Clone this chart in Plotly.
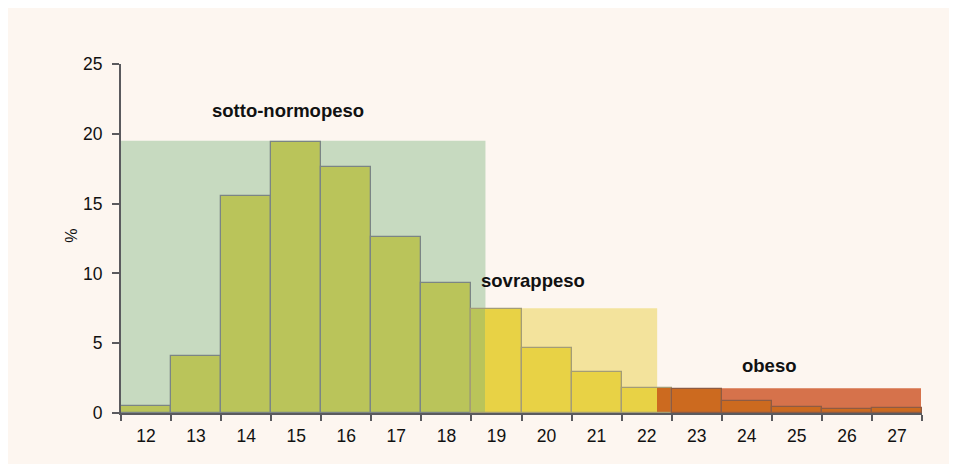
import plotly.graph_objects as go

# ---- data ----
bmi = [12, 13, 14, 15, 16, 17, 18, 19, 20, 21, 22, 23, 24, 25, 26, 27]
pct = [0.48, 4.05, 15.52, 19.40, 17.65, 12.58, 9.33, 7.44, 4.64, 2.92, 1.77, 1.72, 0.84, 0.43, 0.27, 0.39]

classes = ["sotto-normopeso", "sovrappeso", "obeso"]
class_lo = [11.5, 18.78, 22.21]
class_hi = [18.78, 22.21, 27.48]
class_top = [19.5, 7.5, 1.78]
label_x = [14.84, 19.73, 24.45]
label_y = [21.7, 9.47, 3.37]

light_cols = ["#c7dac0", "#f3e39c", "#d6724b"]
bar_cols = ["#bac45a", "#e8d245", "#cc6a1f"]
edge_cols = ["#7b8585", "#a49d76", "#8e5b43"]

CREAM = "#fdf6f0"
AX = "#5a5a5e"

fig = go.Figure()

# page body has an 8px margin: figure origin is at (8, 8) on screen
OFF = 8
L, R, T, B = 120.7 - OFF, 921.7 - OFF, 64.3 - OFF, 412.7 - OFF
W, H = 941, 456
pw, ph = R - L, B - T

shapes = []
for lo, hi, top, col in zip(class_lo, class_hi, class_top, light_cols):
    shapes.append(dict(type="rect", xref="x", yref="y", layer="below",
                       x0=lo, x1=hi, y0=0, y1=top,
                       fillcolor=col, line=dict(width=0)))

# bar fills split by class region
n = len(classes)
for i in range(n):
    lo = -1e9 if i == 0 else class_lo[i]
    hi = 1e9 if i == n - 1 else class_hi[i]
    xs, ws, ys = [], [], []
    for b, p in zip(bmi, pct):
        a0, a1 = max(b - 0.5, lo), min(b + 0.5, hi)
        if a1 > a0:
            xs.append((a0 + a1) / 2)
            ws.append(a1 - a0)
            ys.append(p)
    fig.add_trace(go.Bar(x=xs, y=ys, width=ws, marker=dict(color=bar_cols[i], line=dict(width=0)),
                         hoverinfo="skip", showlegend=False))

# bar outlines
def class_of(b):
    for i in range(n):
        if b < class_hi[i]:
            return i
    return n - 1

fig.add_trace(go.Bar(x=bmi, y=pct, width=[1] * len(bmi),
                     marker=dict(color="rgba(0,0,0,0)",
                                 line=dict(width=1.3, color=[edge_cols[class_of(b)] for b in bmi])),
                     hoverinfo="skip", showlegend=False))

annotations = []
for t, x, y in zip(classes, label_x, label_y):
    annotations.append(dict(text="<b>%s</b>" % t, x=x, y=y, xref="x", yref="y", showarrow=False,
                            font=dict(family="Liberation Sans, Arial", size=18.5, color="#111111")))
annotations.append(dict(text="%", x=(61 - OFF - L) / pw, y=(B - (236 - OFF)) / ph,
                        xref="paper", yref="paper", showarrow=False, textangle=-90,
                        font=dict(family="Liberation Sans, Arial", size=16, color="#111111")))

fig.update_layout(
    width=W, height=H, autosize=False,
    margin=dict(l=L, r=W - R, t=T, b=H - B, pad=0),
    paper_bgcolor=CREAM, plot_bgcolor=CREAM,
    barmode="overlay", bargap=0,
    shapes=shapes, annotations=annotations,
    font=dict(family="Liberation Sans, Arial", size=17.5, color="#111111"),
    xaxis=dict(range=[11.5, 27.5], tickvals=bmi, ticktext=[str(b) for b in bmi],
               ticks="", showgrid=False, zeroline=False,
               showline=True, linecolor=AX, linewidth=2,
               ticklabelstandoff=6,
               minor=dict(tickvals=[b - 0.5 for b in bmi] + [bmi[-1] + 0.5],
                          ticks="outside", ticklen=6, tickwidth=2, tickcolor=AX, showgrid=False)),
    yaxis=dict(range=[0, 25], tickvals=[0, 5, 10, 15, 20, 25], ticks="outside", ticklen=7,
               tickwidth=2, tickcolor=AX, showgrid=False, zeroline=False,
               showline=True, linecolor=AX, linewidth=2, ticklabelstandoff=6),
)

fig.write_html("out.html")
